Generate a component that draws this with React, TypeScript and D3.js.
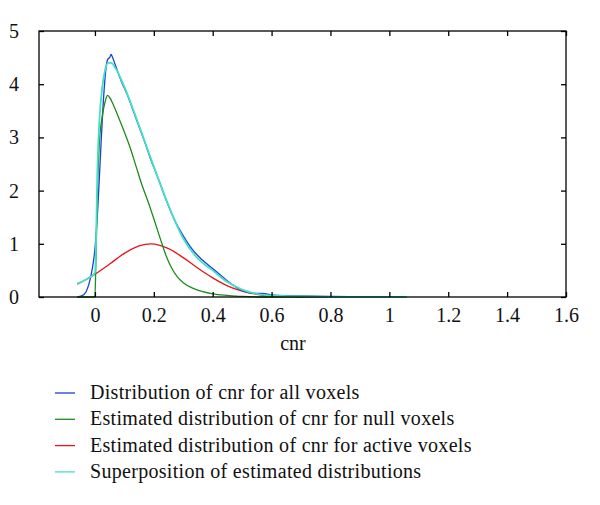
import React, { useEffect, useRef } from "react";
import * as d3 from "d3";

// values (x = cnr, y = density)
const allX = [-0.06, -0.045, -0.03, -0.02, -0.01, 0, 0.01, 0.02, 0.03, 0.04, 0.045, 0.05, 0.055, 0.06, 0.07, 0.09, 0.11, 0.13, 0.15, 0.17, 0.19, 0.21, 0.24, 0.27, 0.3, 0.33, 0.36, 0.39, 0.42, 0.45, 0.48, 0.51, 0.54, 0.57, 0.59, 0.62, 0.7, 0.8, 0.9, 1.0, 1.06];
const allY = [0, 0.02, 0.1, 0.25, 0.5, 0.9, 1.7, 2.8, 3.8, 4.4, 4.48, 4.5, 4.56, 4.5, 4.35, 4.05, 3.8, 3.5, 3.2, 2.9, 2.58, 2.3, 1.85, 1.45, 1.15, 0.9, 0.72, 0.58, 0.44, 0.3, 0.18, 0.1, 0.07, 0.07, 0.05, 0.03, 0.02, 0.01, 0.005, 0, 0];

const nullX = [-0.06, 0, 0.003, 0.008, 0.015, 0.025, 0.035, 0.043, 0.05, 0.062, 0.08, 0.1, 0.12, 0.14, 0.16, 0.18, 0.2, 0.22, 0.24, 0.26, 0.28, 0.3, 0.33, 0.36, 0.4, 0.45, 0.5, 0.6, 1.06];
const nullY = [0, 0, 0.6, 1.9, 2.9, 3.4, 3.68, 3.79, 3.75, 3.62, 3.38, 3.1, 2.8, 2.45, 2.1, 1.8, 1.47, 1.13, 0.8, 0.55, 0.38, 0.27, 0.17, 0.11, 0.06, 0.03, 0.01, 0, 0];

const activeX = [-0.06, -0.03, 0, 0.05, 0.1, 0.15, 0.19, 0.25, 0.3, 0.35, 0.4, 0.45, 0.5, 0.55, 0.6, 0.65, 0.7, 1.06];
const activeY = [0.24, 0.33, 0.43, 0.62, 0.82, 0.96, 1.0, 0.91, 0.74, 0.54, 0.36, 0.21, 0.11, 0.05, 0.02, 0.01, 0, 0];

const sumX = [-0.06, -0.03, 0, 0.004, 0.008, 0.015, 0.025, 0.035, 0.045, 0.055, 0.07, 0.1, 0.15, 0.2, 0.25, 0.3, 0.35, 0.4, 0.45, 0.5, 0.55, 0.6, 0.7, 0.8, 1.06];
const sumY = [0.25, 0.33, 0.45, 1.1, 2.3, 3.3, 3.95, 4.28, 4.4, 4.4, 4.3, 3.95, 3.22, 2.45, 1.72, 1.1, 0.72, 0.5, 0.28, 0.14, 0.06, 0.03, 0.01, 0, 0];

const xTicks = [0, 0.2, 0.4, 0.6, 0.8, 1, 1.2, 1.4, 1.6];
const yTicks = [0, 1, 2, 3, 4, 5];

const seriesNames = [
  "Distribution of cnr for all voxels",
  "Estimated distribution of cnr for null voxels",
  "Estimated distribution of cnr for active voxels",
  "Superposition of estimated distributions",
];
const seriesColors = ["#1c3fd6", "#1d8c1d", "#e4161b", "#43e0c4"];

export default function App() {
  const ref = useRef<SVGSVGElement>(null);

  useEffect(() => {
    const svg = d3.select(ref.current);
    svg.selectAll("*").remove();

    const margin = { top: 31, right: 34, bottom: 208, left: 39 };
    const width = 600 - margin.left - margin.right;
    const height = 505 - margin.top - margin.bottom;
    const font = "'Liberation Serif', 'Times New Roman', serif";

    const x = d3.scaleLinear().domain([-0.19, 1.6]).range([0, width]);
    const y = d3.scaleLinear().domain([0, 5]).range([height, 0]);

    const g = svg.append("g").attr("transform", `translate(${margin.left},${margin.top})`);

    const series = [
      [allX, allY],
      [nullX, nullY],
      [activeX, activeY],
      [sumX, sumY],
    ];
    // draw order: active under the others, superposition on top
    const order = [2, 0, 1, 3];
    const line = d3.line<[number, number]>()
      .x(d => x(d[0]))
      .y(d => y(d[1]))
      .curve(d3.curveMonotoneX);
    order.forEach(i => {
      const [xs, ys] = series[i];
      const pts = xs.map((v, k) => [v, ys[k]] as [number, number]);
      g.append("path")
        .attr("d", line(pts))
        .attr("fill", "none")
        .attr("stroke", seriesColors[i])
        .attr("stroke-width", i === 3 ? 1.8 : 1.3)
        .attr("stroke-linejoin", "round");
    });

    // frame
    g.append("rect")
      .attr("width", width).attr("height", height)
      .attr("fill", "none").attr("stroke", "#000").attr("stroke-width", 1.3);

    const tick = 5;
    const bottom = g.append("g").attr("transform", `translate(0,${height})`)
      .call(d3.axisBottom(x).tickValues(xTicks).tickSizeInner(-tick).tickSizeOuter(0).tickPadding(11).tickFormat(d3.format("")));
    const top = g.append("g")
      .call(d3.axisTop(x).tickValues(xTicks).tickSizeInner(-tick).tickSizeOuter(0).tickFormat(() => ""));
    const left = g.append("g")
      .call(d3.axisLeft(y).tickValues(yTicks).tickSizeInner(-tick).tickSizeOuter(0).tickPadding(20).tickFormat(d3.format("d")));
    const right = g.append("g").attr("transform", `translate(${width},0)`)
      .call(d3.axisRight(y).tickValues(yTicks).tickSizeInner(-tick).tickSizeOuter(0).tickFormat(() => ""));
    [bottom, top, left, right].forEach(a => {
      a.select(".domain").remove();
      a.selectAll("line").attr("stroke", "#000").attr("stroke-width", 1.3);
      a.selectAll("text").attr("font-family", font).attr("font-size", 20).attr("fill", "#111");
    });

    svg.append("text")
      .attr("x", 293).attr("y", 350)
      .attr("text-anchor", "middle")
      .attr("font-family", font).attr("font-size", 20).attr("fill", "#111")
      .text("cnr");

    const legend = svg.append("g").attr("transform", "translate(55,393)");
    seriesNames.forEach((name, i) => {
      const row = legend.append("g").attr("transform", `translate(0,${i * 26.3})`);
      row.append("line").attr("x1", 0).attr("x2", 20).attr("y1", 0).attr("y2", 0)
        .attr("stroke", seriesColors[i]).attr("stroke-width", 1.3);
      row.append("text").attr("x", 35).attr("y", 6)
        .attr("font-family", font).attr("font-size", 20).attr("letter-spacing", 0.3).attr("fill", "#111")
        .text(name);
    });
  }, []);

  return <svg ref={ref} width={600} height={505} style={{ position: "absolute", left: 0, top: 0, background: "#fff" }} />;
}
